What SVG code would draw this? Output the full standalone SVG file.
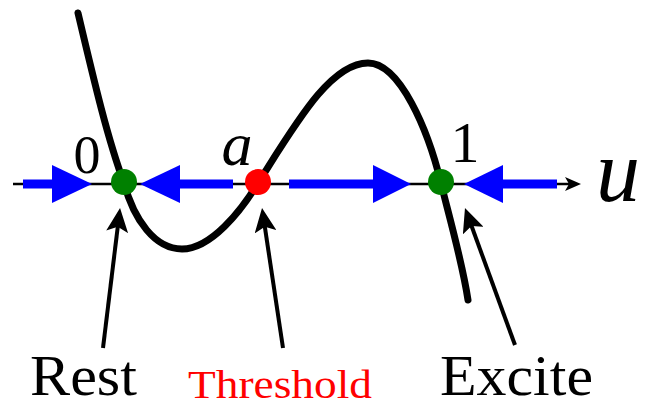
<svg xmlns="http://www.w3.org/2000/svg" width="648" height="408" viewBox="0 0 648 408">
  <style>
    .curve { fill: none; stroke: #000; stroke-width: 7; stroke-linecap: round; stroke-linejoin: round; }
    .axis { stroke: #000; stroke-width: 2.5; fill: none; }
    .shaft { stroke: #0000ff; stroke-width: 9; fill: none; }
    .head { fill: #0000ff; stroke: none; }
    .ptr { stroke: #000; stroke-width: 4; fill: none; }
    .stable { fill: #008000; }
    .unstable { fill: #ff0000; }
  </style>
  <defs>
    <marker id="ptrhead" markerUnits="userSpaceOnUse" viewBox="0 0 24 22" refX="12" refY="11" markerWidth="24" markerHeight="22" orient="auto">
      <path d="M0,0 L24,11 L0,22 L5,11 z" fill="#000"/>
    </marker>
    <marker id="axhead" markerUnits="userSpaceOnUse" viewBox="0 0 16 14" refX="8" refY="7" markerWidth="16" markerHeight="14" orient="auto">
      <path d="M0,0 L16,7 L0,14 L4,7 z" fill="#000"/>
    </marker>
  </defs>

  <g id="curve">
    <path class="curve" d="M78,13 C95,85 108,140 124,183 C134,220 155,249 182,249 C211,249 241,211 258,183 C295,125 330,63 368,63 C400,63 428,130 441,183 C446,205 462,260 468,300"/>
  </g>

  <g id="axis">
    <line class="axis" x1="13" y1="184" x2="573" y2="184" marker-end="url(#axhead)"/>
  </g>

  <g id="flow-arrows">
    <line class="shaft" x1="23" y1="184" x2="55" y2="184"/>
    <polygon class="head" points="52,165 92,184 52,203"/>
    <line class="shaft" x1="177" y1="184" x2="233" y2="184"/>
    <polygon class="head" points="180,165 140,184 180,203"/>
    <line class="shaft" x1="289" y1="184" x2="376" y2="184"/>
    <polygon class="head" points="373,165 411,184 373,203"/>
    <line class="shaft" x1="500" y1="184" x2="557" y2="184"/>
    <polygon class="head" points="503,165 464,184 503,203"/>
  </g>

  <g font-family="Liberation Serif, DejaVu Serif, serif">
    <g id="node-rest">
      <circle class="stable" cx="124" cy="182" r="13"/>
      <text x="87" y="173" font-size="54" text-anchor="middle">0</text>
      <text x="30" y="395" font-size="58" textLength="107" lengthAdjust="spacingAndGlyphs">Rest</text>
    </g>

    <g id="node-threshold">
      <circle class="unstable" cx="258" cy="182" r="13"/>
      <text x="237" y="165" font-size="62" font-style="italic" text-anchor="middle">a</text>
      <text x="188" y="398" font-size="41" fill="#ff0000" textLength="184" lengthAdjust="spacingAndGlyphs">Threshold</text>
    </g>

    <g id="node-excite">
      <circle class="stable" cx="441" cy="182" r="13"/>
      <text x="465" y="162" font-size="58" text-anchor="middle">1</text>
      <text x="440" y="395" font-size="58" textLength="153" lengthAdjust="spacingAndGlyphs">Excite</text>
    </g>

    <g id="axis-label">
      <text x="596" y="201" font-size="88" font-style="italic">u</text>
    </g>
  </g>

  <g id="connectors">
    <line class="ptr" x1="103" y1="348" x2="118.6" y2="219.9" marker-end="url(#ptrhead)"/>
    <line class="ptr" x1="283" y1="348" x2="263.8" y2="219.9" marker-end="url(#ptrhead)"/>
    <line class="ptr" x1="515" y1="345" x2="469.1" y2="219.3" marker-end="url(#ptrhead)"/>
  </g>
</svg>
